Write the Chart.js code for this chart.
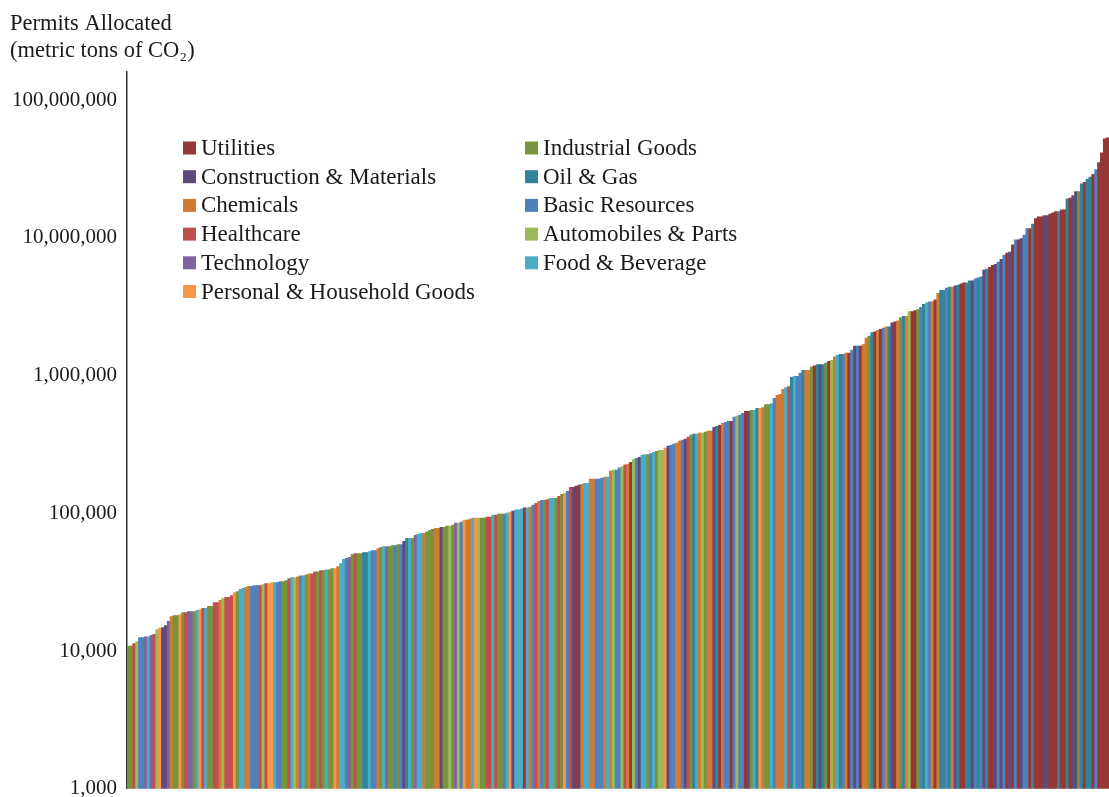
<!DOCTYPE html>
<html>
<head>
<meta charset="utf-8">
<script src="https://cdn.jsdelivr.net/npm/chart.js@4.4.0/dist/chart.umd.min.js"></script>
<style>
  html, body { margin: 0; padding: 0; background: #fff; }
  #wrap { width: 1109px; height: 797px; }
</style>
</head>
<body>
<div id="wrap"><canvas id="grafico"></canvas></div>
<script>
// sectores en el orden de la leyenda (fila por fila)
const codigos = ["U", "I", "C", "O", "M", "B", "H", "A", "T", "F", "P"];
const sectores = [
  "Utilities", "Industrial Goods",
  "Construction & Materials", "Oil & Gas",
  "Chemicals", "Basic Resources",
  "Healthcare", "Automobiles & Parts",
  "Technology", "Food & Beverage",
  "Personal & Household Goods"
];
const colores = [
  "#953735", "#77933C",
  "#604A7B", "#31849B",
  "#CF7B36", "#4F81BD",
  "#C0504D", "#9BBB59",
  "#8064A2", "#4BACC6",
  "#F79646"
];

// sector de cada instalacion, ordenadas de menor a mayor
const sectorBarra = [
  "I","I","H","A","B","B","T","F","T","H",
  "A","P","C","C","T","M","I","I","P","I",
  "H","T","T","I","F","P","H","F","I","I",
  "H","H","M","A","H","H","H","P","I","F",
  "F","M","M","B","B","B","H","A","H","P",
  "P","F","B","B","I","I","H","F","A","M",
  "B","F","I","M","H","H","I","H","I","F",
  "I","I","P","M","F","F","B","T","I","H",
  "I","I","O","O","F","B","B","M","I","F",
  "T","I","I","B","I","B","C","O","F","I",
  "T","F","F","M","I","I","I","M","M","C",
  "I","I","A","I","T","A","B","P","M","M",
  "F","P","A","I","I","H","H","F","H","I",
  "I","B","F","P","C","F","F","F","U","F",
  "M","B","H","M","B","I","H","F","F","I",
  "H","I","P","B","H","C","U","C","M","F",
  "F","M","M","B","B","B","M","F","M","A",
  "B","B","A","H","M","U","A","B","C","F",
  "F","I","B","F","I","A","A","P","C","B",
  "B","M","M","B","C","H","I","O","F","M",
  "A","I","M","M","C","O","U","M","B","B",
  "U","B","A","B","B","U","C","I","F","O",
  "P","M","I","I","F","B","M","M","M","F",
  "H","O","F","B","B","O","M","M","I","U",
  "O","C","O","I","U","A","M","F","O","B",
  "M","U","B","C","B","U","M","M","I","O",
  "U","M","U","B","M","O","C","U","M","I",
  "O","M","A","U","U","I","B","O","F","B",
  "M","U","M","O","O","B","O","M","C","O",
  "U","U","O","O","C","B","O","B","C","O",
  "U","U","C","B","C","B","U","C","U","B",
  "U","C","B","B","U","O","U","U","U","C",
  "C","U","U","U","O","U","U","O","U","C",
  "C","I","O","U","O","O","U","B","U","U",
  "U","U"
];

// permisos asignados (toneladas de CO2)
const permisos = [
  10800, 10900, 11300, 11700, 12500, 12500, 12700, 12700, 13000, 13200,
  14300, 14600, 14800, 15300, 16400, 17800, 18100, 18100, 18400, 19000,
  19000, 19300, 19300, 19300, 19700, 20000, 20400, 20400, 21100, 21100,
  22500, 22500, 23300, 24100, 24500, 24500, 25300, 26600, 27000, 28000,
  28500, 29000, 29500, 29500, 29900, 29900, 29900, 30400, 30900, 30900,
  31400, 31400, 31400, 31900, 31900, 32400, 33500, 34100, 34100, 34600,
  35200, 35200, 35800, 36400, 36400, 37600, 37600, 38300, 38300, 38900,
  38900, 39600, 39600, 41100, 43200, 46300, 47000, 47900, 50200, 51000,
  51000, 51000, 51900, 51900, 52800, 53600, 53600, 55500, 56500, 57400,
  57400, 57400, 58400, 58400, 59300, 59300, 62500, 65700, 65700, 65700,
  69200, 70400, 71600, 71600, 73500, 75300, 76600, 77900, 77900, 79200,
  79200, 80600, 80600, 82000, 84800, 84800, 86200, 89200, 89200, 90800,
  92300, 92300, 92300, 92300, 92300, 93900, 93900, 97100, 97100, 98800,
  98800, 98800, 100500, 102000, 104000, 105800, 105800, 107600, 109400, 109400,
  111000, 114600, 118300, 122200, 124000, 124000, 126000, 128400, 128400, 128400,
  133000, 137600, 140000, 144600, 154700, 154700, 157400, 160000, 162600, 165000,
  165000, 177000, 177000, 177000, 177000, 180000, 183000, 183000, 203000, 206000,
  206000, 214000, 218000, 225000, 228000, 235000, 246000, 251000, 255000, 265000,
  267000, 267000, 272000, 277000, 282000, 287000, 287000, 297000, 308000, 312000,
  318000, 323000, 334000, 340000, 346000, 358000, 370000, 376000, 376000, 382000,
  382000, 389000, 395000, 395000, 421000, 428000, 435000, 450000, 457000, 465000,
  465000, 500000, 508000, 516000, 533000, 551000, 551000, 560000, 560000, 578000,
  578000, 587000, 617000, 617000, 627000, 683000, 718000, 730000, 794000, 820000,
  834000, 970000, 990000, 990000, 1040000, 1090000, 1090000, 1090000, 1160000, 1180000,
  1200000, 1200000, 1200000, 1240000, 1270000, 1290000, 1370000, 1410000, 1430000, 1430000,
  1460000, 1460000, 1530000, 1640000, 1640000, 1640000, 1680000, 1870000, 1930000, 2050000,
  2080000, 2130000, 2170000, 2210000, 2260000, 2260000, 2420000, 2460000, 2500000, 2640000,
  2690000, 2690000, 2920000, 2920000, 2970000, 3020000, 3130000, 3300000, 3370000, 3430000,
  3430000, 3550000, 3950000, 4170000, 4170000, 4320000, 4400000, 4400000, 4480000, 4550000,
  4630000, 4710000, 4710000, 4870000, 4870000, 5050000, 5120000, 5210000, 5830000, 5930000,
  6120000, 6330000, 6440000, 6670000, 7000000, 7500000, 7770000, 7900000, 8900000, 9700000,
  9700000, 9900000, 10500000, 11700000, 11700000, 12600000, 13800000, 14200000, 14200000, 14500000,
  14500000, 14900000, 15200000, 15500000, 15500000, 16000000, 16000000, 19200000, 19500000, 20300000,
  21700000, 21700000, 24700000, 25300000, 26700000, 27700000, 29000000, 31400000, 35200000, 41400000,
  52500000, 53300000
];

const marcasY = [1000, 10000, 100000, 1000000, 10000000, 100000000];
const tituloEje = ["Permits Allocated", "(metric tons of CO\u2082)"];

const fuente = '"Liberation Serif", "Times New Roman", serif';
const colorTexto = "#1a1a1a";

const etiquetas = permisos.map((v, i) => i + 1);
const coloresBarra = sectorBarra.map((c) => colores[codigos.indexOf(c)]);

const leyendaPlugin = {
  id: "leyenda",
  afterDraw(chart) {
    const ctx = chart.ctx;
    const izq = chart.chartArea.left;
    ctx.save();
    ctx.font = "23px " + fuente;
    ctx.textBaseline = "middle";
    ctx.textAlign = "left";
    sectores.forEach((nombre, i) => {
      const col = i % 2;
      const fila = Math.floor(i / 2);
      const x = izq + (col === 0 ? 56 : 398);
      const y = 148 + fila * 28.7;
      ctx.fillStyle = colores[i];
      ctx.fillRect(x, y - 6.5, 13, 13);
      ctx.fillStyle = colorTexto;
      ctx.fillText(nombre, x + 18, y + 1);
    });
    ctx.restore();
  }
};

const config = {
  type: "bar",
  data: {
    labels: etiquetas,
    datasets: [
      {
        label: "Permits Allocated",
        data: permisos,
        backgroundColor: coloresBarra,
        borderWidth: 0,
        barPercentage: 1,
        categoryPercentage: 1
      }
    ]
  },
  options: {
    responsive: true,
    maintainAspectRatio: false,
    animation: false,
    layout: { padding: { left: 10, right: 0, top: 0, bottom: 0 } },
    plugins: {
      legend: { display: false },
      tooltip: { enabled: false },
      title: {
        display: true,
        text: tituloEje,
        align: "start",
        color: colorTexto,
        font: { family: fuente, size: 22.5, weight: "normal", lineHeight: 1.18 },
        padding: { top: 11, bottom: 8 }
      }
    },
    scales: {
      x: { display: false },
      y: {
        type: "logarithmic",
        min: 1000,
        max: 160000000,
        z: 1,
        afterBuildTicks: (scale) => {
          scale.ticks = marcasY.map((v) => ({ value: v }));
        },
        grid: { display: false },
        border: { display: true, color: "#333", width: 1.5 },
        ticks: {
          color: colorTexto,
          padding: 2,
          font: { family: fuente, size: 21, lineHeight: 0.6 },
          callback: (v) => Number(v).toLocaleString("en-US")
        }
      }
    }
  },
  plugins: [leyendaPlugin]
};

new Chart(document.getElementById("grafico"), config);
</script>
</body>
</html>
